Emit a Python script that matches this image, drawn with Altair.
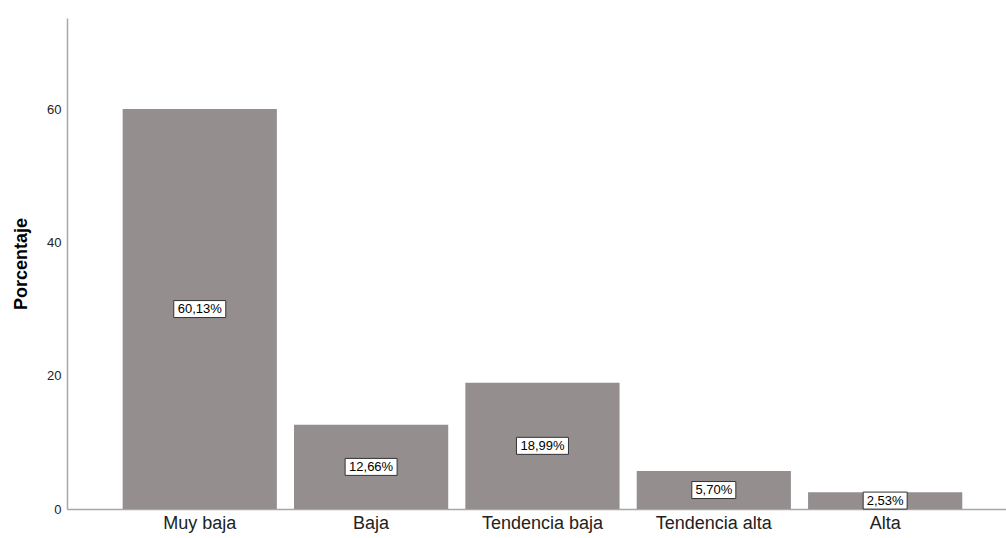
import altair as alt
import pandas as pd

# Distribution by level (percent of respondents)
categories = ["Muy baja", "Baja", "Tendencia baja", "Tendencia alta", "Alta"]
percentages = [60.13, 12.66, 18.99, 5.70, 2.53]

labels = [f"{v:.2f}".replace(".", ",") + "%" for v in percentages]


def box_path(text):
    # Rectangle around a value label, in pixels (symbol size 4 -> unit scale)
    half_w = (8 * len(text) + 4) / 2
    half_h = 8.5
    return (f"M{-half_w},{-half_h}L{half_w},{-half_h}"
            f"L{half_w},{half_h}L{-half_w},{half_h}Z")


df = pd.DataFrame({
    "categoria": categories,
    "porcentaje": percentages,
    "etiqueta": labels,
    "caja": [box_path(t) for t in labels],
})

FONT = "Liberation Sans"

x_enc = alt.X(
    "categoria:N",
    sort=categories,
    title=None,
    scale=alt.Scale(paddingInner=0.1, paddingOuter=0.29, align=0.56),
    axis=alt.Axis(
        labelAngle=0, labelFontSize=18, labelColor="#222222", labelFont=FONT,
        labelPadding=5, ticks=False, domainColor="#a8a8a8", domainWidth=1.5,
    ),
)

y_scale = alt.Scale(domain=[0, 73.83], nice=False)

bars = alt.Chart(df).mark_bar(color="#948f8e").encode(
    x=x_enc,
    y=alt.Y(
        "porcentaje:Q",
        title="Porcentaje",
        scale=y_scale,
        axis=alt.Axis(
            values=[0, 20, 40, 60], grid=False, ticks=False,
            labelFontSize=13, labelColor="#222222", labelFont=FONT,
            labelPadding=6, domainColor="#a8a8a8", domainWidth=1.5,
            titleFont=FONT, titleFontSize=18, titleFontWeight="bold",
            titleColor="#000000", titlePadding=16,
        ),
    ),
)

mid = alt.Chart(df).transform_calculate(medio="datum.porcentaje / 2")

boxes = mid.mark_point(
    filled=True, fill="white", stroke="#333333", strokeWidth=1, opacity=1, size=4
).encode(
    x=alt.X("categoria:N", sort=categories),
    y=alt.Y("medio:Q", scale=y_scale),
    shape=alt.Shape("caja:N", scale=None, legend=None),
)

texts = mid.mark_text(
    font=FONT, fontSize=13, color="#000000", baseline="middle", align="center"
).encode(
    x=alt.X("categoria:N", sort=categories),
    y=alt.Y("medio:Q", scale=y_scale),
    text="etiqueta:N",
)

chart = (
    alt.layer(bars, boxes, texts)
    .properties(
        width=939,
        height=491,
        autosize=alt.AutoSizeParams(type="none"),
        padding={"left": 67, "top": 18, "right": 0, "bottom": 29},
        background="white",
    )
    .configure_view(stroke=None)
)

chart.save("out.html", embed_options={"renderer": "svg", "actions": False})
